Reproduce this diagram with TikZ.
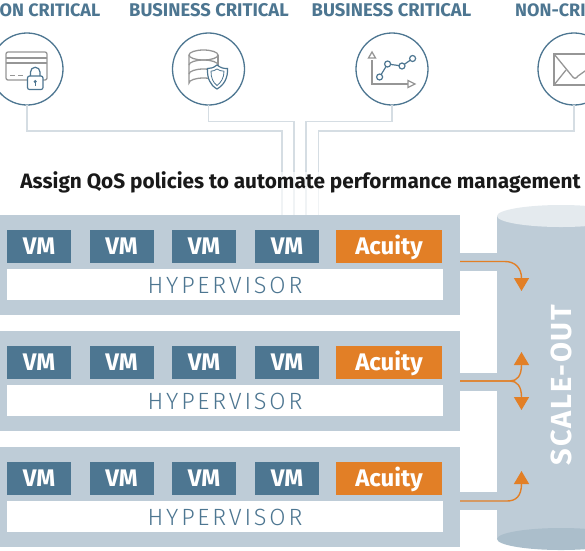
\documentclass[tikz,border=0pt]{standalone}
\usepackage{fontspec}
\setmainfont{Fira Sans}
\newfontfamily\widefont[LetterSpace=12]{Fira Sans Light}
\newfontfamily\storefont[LetterSpace=6]{Fira Sans}
\usetikzlibrary{arrows.meta,positioning}
\definecolor{qosblue}{RGB}{77,118,145}
\definecolor{qosband}{RGB}{190,204,215}
\definecolor{qosorange}{RGB}{226,127,38}
\definecolor{qosline}{RGB}{213,221,227}
\definecolor{qosgray}{RGB}{150,150,150}

\begin{document}
\begin{tikzpicture}[
  x=1pt,y=-1pt,
  band/.style={fill=qosband,rectangle,inner sep=0pt,outer sep=0pt,anchor=north west,
               minimum width=460pt,minimum height=100pt},
  vmbox/.style={fill=qosblue,rectangle,inner sep=0pt,outer sep=0pt,anchor=north west,
                minimum width=64pt,minimum height=33pt,text=white,text height=16pt,text depth=0pt,
                font=\fontsize{24}{24}\selectfont\bfseries},
  acuity/.style={vmbox,fill=qosorange,minimum width=106pt},
  hyper/.style={fill=white,rectangle,inner sep=0pt,outer sep=0pt,anchor=north west,
                minimum width=436pt,minimum height=31pt,text=qosblue,text height=18.5pt,text depth=0pt,
                font=\fontsize{23.5}{24}\widefont},
  tier/.style={font=\fontsize{18}{19}\selectfont\bfseries,text=qosblue,inner sep=0pt},
  tierwide/.style={tier,font=\fontsize{18.4}{19}\selectfont\bfseries},
  iconring/.style={draw=qosblue,line width=1.3pt,circle,fill=white,minimum size=72pt,inner sep=0pt,outer sep=0pt},
  feed/.style={draw=qosline,line width=1.1pt},
  feedfade/.style={draw=qosline!35,line width=1.1pt},
  flow/.style={draw=qosorange,line width=1.4pt,-{Triangle[width=15pt,length=13pt]}},
  gline/.style={draw=qosgray,line width=1.3pt},
  bline/.style={draw=qosblue,line width=1.2pt}
]
  \useasboundingbox (0,0) rectangle (585,550);
  \clip (0,0) rectangle (585,550);

  % Tier labels
  \node[tier,anchor=east] (tierA) at (100.5,10) {ON CRITICAL};
  \node[tierwide,anchor=center] (tierB) at (209,10) {BUSINESS CRITICAL};
  \node[tierwide,anchor=center] (tierC) at (391.5,10) {BUSINESS CRITICAL};
  \node[tier,anchor=west] (tierD) at (515,10) {NON-CRI};

  % Feeds into the hosts
  \coordinate (bendA) at (282,131);
  \coordinate (bendB) at (294,121.5);
  \coordinate (bendC) at (306,121.5);
  \coordinate (bendD) at (318.5,131);
  \node[iconring] (ringA) at (27,69) {};
  \node[iconring] (ringB) at (208.5,69) {};
  \node[iconring] (ringC) at (392,69) {};
  \node[iconring] (ringD) at (574,69) {};
  \foreach \k/\xx in {A/282,B/294,C/306,D/318.5} {
    \coordinate (mid\k) at (\xx,172);
    \coordinate (foot\k) at (\xx,215);
    \draw[feed] (ring\k.south) |- (bend\k) -- (mid\k);
    \draw[feedfade] (mid\k) -- (foot\k);
  }

  % Card and lock
  \draw[gline,rounded corners=2pt] (6,52) rectangle (47,80);
  \draw[gline] (6,58) -- (47,58) (6,63) -- (47,63);
  \draw[gline] (10,75.5) -- (15,75.5) (18,75.5) -- (23,75.5);
  \draw[bline,fill=white,rounded corners=2pt] (27.5,76) rectangle (43,89.5);
  \draw[bline] (30.5,76) -- (30.5,72) arc[start angle=180,end angle=0,radius=4.75pt] -- (40,76);
  \fill[qosblue] (35.2,81.5) circle[radius=1.7pt];
  \draw[qosblue,line width=1pt] (35.2,81.5) -- (35.2,85.5);

  % Database and shield
  \draw[gline] (189,55) -- (189,83) arc[start angle=180,end angle=360,x radius=14.5pt,y radius=-5pt];
  \draw[gline] (218,55) -- (218,70);
  \draw[gline] (203.5,55) ellipse[x radius=14.5pt,y radius=5pt];
  \draw[gline] (189,65) arc[start angle=180,end angle=360,x radius=14.5pt,y radius=-5pt];
  \draw[gline] (189,74) arc[start angle=180,end angle=360,x radius=14.5pt,y radius=-5pt];
  \draw[bline,fill=white] (217,65) .. controls (213,68) and (211,68.5) .. (207.5,68.5)
    .. controls (207,78) and (210,85) .. (217,89) .. controls (224,85) and (228,78) .. (227.5,68.5)
    .. controls (223,68.5) and (221,68) .. (217,65) -- cycle;
  \draw[bline,line width=.8pt] (217,69) .. controls (215,70.5) and (213,71) .. (211,71.2)
    .. controls (211,78) and (213,82.5) .. (217,85.5) .. controls (221,82.5) and (224,78) .. (224,71.2)
    .. controls (221,71) and (219,70.5) .. (217,69) -- cycle;

  % Trend chart
  \draw[gline] (372,60) -- (372,84) -- (409,84);
  \draw[gline,fill=white] (372,52) -- (368.5,58) -- (375.5,58) -- cycle;
  \draw[gline,fill=white] (415,84) -- (408,80.5) -- (408,87.5) -- cycle;
  \draw[bline] (379.6,77) -- (387.6,64) -- (402,66) -- (412.6,58.5);
  \foreach \px/\py in {379.6/77,387.6/64,402/66,412.6/58.5}
    \draw[bline,fill=white] (\px,\py) circle[radius=3pt];

  % Envelope
  \draw[gline] (592,54) -- (554,54) -- (554,85) -- (592,85);
  \draw[gline] (554,54) -- (572,76) .. controls (574,79) and (576,79) .. (578,76) -- (592,66);
  \draw[gline] (554,85) -- (566,70);

  % Title
  \node[font=\fontsize{20.8}{21}\selectfont\bfseries,text=black!90,inner sep=0pt] (title) at (300.5,182)
    {Assign QoS policies to automate performance management};

  % Scale-out store
  \fill[qosband] (497,216) rectangle (625,539);
  \fill[qosband!42] (561,216) ellipse[x radius=64pt,y radius=11pt];
  \fill[qosband!75!qosblue!90] (561,539) ellipse[x radius=64pt,y radius=11pt];
  \node[rotate=90,text=white,inner sep=0pt,font=\fontsize{29}{29}\storefont\bfseries] (store) at (561,385) {SCALE-OUT};

  % Hosts
  \foreach \row/\yy/\linky/\outy in {1/215/253/261.5,2/331/373/381,3/447/492/501} {
    \node[band] (band\row) at (0,\yy) {};
    \fill[qosband] (460,\linky) rectangle (498,\linky+17.5);
    \foreach \col/\xx in {1/7,2/89.5,3/172,4/255}
      \node[vmbox] (vm\row\col) at (\xx,\yy+14.5) {VM};
    \node[acuity] (acuity\row) at (336,\yy+14.5) {Acuity};
    \node[hyper] (hyper\row) at (7,\yy+54) {HYPERVISOR};
    \coordinate (out\row) at (460,\outy);
  }

  % Flows into the store
  \coordinate (tipA) at (521.5,291);
  \coordinate (tipB) at (521.5,352);
  \coordinate (tipC) at (521.5,410);
  \coordinate (tipD) at (521.5,471);
  \draw[flow] (out1) -- (505,261.5) .. controls (515,261.5) and (521.5,268) .. (tipA);
  \draw[flow] (out2) -- (510,381) .. controls (517,381) and (521.5,376) .. (tipB);
  \draw[flow] (out2) -- (510,381) .. controls (517,381) and (521.5,386) .. (tipC);
  \draw[flow] (out3) -- (507,501) .. controls (516,501) and (521.5,496) .. (tipD);
\end{tikzpicture}
\end{document}
